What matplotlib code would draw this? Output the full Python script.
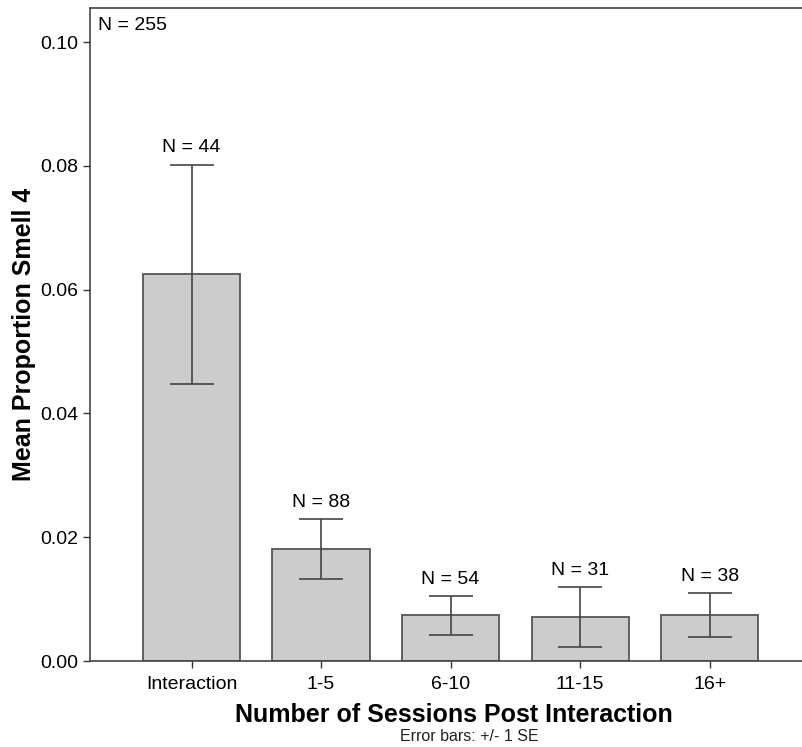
import matplotlib.pyplot as plt

plt.rcParams['font.family'] = ['Liberation Sans', 'DejaVu Sans']

# data
groups = ['Interaction', '1-5', '6-10', '11-15', '16+']
means = [0.0625, 0.0181, 0.0074, 0.0071, 0.0074]
err_hi = [0.0802, 0.0229, 0.0105, 0.0119, 0.0110]
err_lo = [0.0448, 0.0132, 0.0042, 0.0022, 0.0038]
n_labels = ['N = 44', 'N = 88', 'N = 54', 'N = 31', 'N = 38']
total_label = 'N = 255'

x = list(range(len(groups)))
yerr = [[m - lo for m, lo in zip(means, err_lo)],
        [hi - m for m, hi in zip(means, err_hi)]]

fig = plt.figure(figsize=(8.02, 7.47), dpi=100)
ax = fig.add_axes([0.1122, 0.1151, 0.8878, 0.8742])

ax.bar(x, means, width=0.75, color='#cccccc', edgecolor='#555555', linewidth=1.3, zorder=2)
ax.errorbar(x, means, yerr=yerr, fmt='none', ecolor='#444444', elinewidth=1.2,
            capsize=16, capthick=1.2, zorder=3)

# N labels above the error bars
for xi, hi, lab in zip(x, err_hi, n_labels):
    ax.annotate(lab, (xi, hi), xytext=(0, 6), textcoords='offset points',
                ha='center', va='bottom', fontsize=14)

ax.text(0.011, 0.986, total_label, transform=ax.transAxes, ha='left', va='top', fontsize=14)

ax.set_xlim(-0.784, 4.713)
ax.set_ylim(0, 0.1055)
ax.set_yticks([0.0, 0.02, 0.04, 0.06, 0.08, 0.10])
ax.set_yticklabels(['0.00', '0.02', '0.04', '0.06', '0.08', '0.10'])
ax.set_xticks(x)
ax.set_xticklabels(groups)
ax.tick_params(axis='both', labelsize=14, length=5, width=1, color='#333333', direction='out')
ax.tick_params(axis='x', pad=6)

for s in ['left', 'bottom', 'top']:
    ax.spines[s].set_color('#444444')
    ax.spines[s].set_linewidth(1.2)
ax.spines['right'].set_visible(False)

ax.set_xlabel('Number of Sessions Post Interaction', fontsize=18, fontweight='bold')
ax.xaxis.set_label_coords(0.511, -0.064, transform=ax.transAxes)
ax.xaxis.label.set_va('top')
ax.set_ylabel('Mean Proportion Smell 4', fontsize=18, fontweight='bold', labelpad=3)
fig.text(0.585, 0.004, 'Error bars: +/- 1 SE', ha='center', va='bottom', fontsize=11.5, color='#222222')

plt.savefig('out.png', dpi=100)
